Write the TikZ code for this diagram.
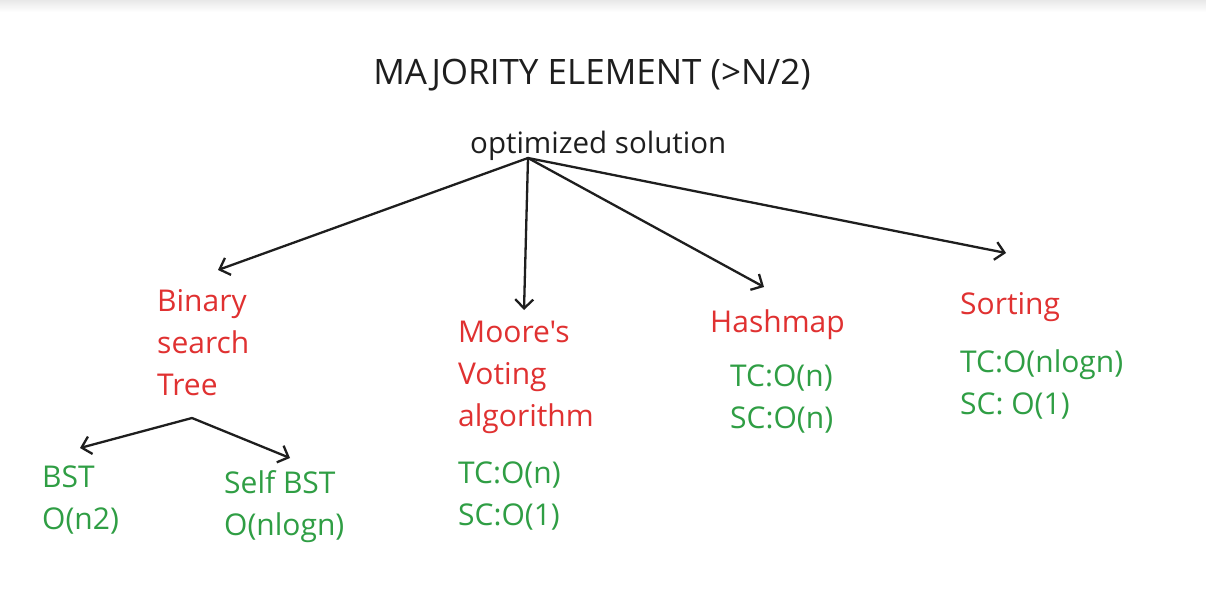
\documentclass[tikz,border=0pt]{standalone}
\usepackage{fontspec}
\setmainfont{Open Sans}[Ligatures=TeXOff]
\usetikzlibrary{arrows.meta}
\definecolor{ink}{HTML}{1E1E1E}
\definecolor{exred}{HTML}{E03131}
\definecolor{exgreen}{HTML}{2F9E44}
\tikzset{
  txt/.style={inner sep=0pt, anchor=base west, align=left, font=\fontsize{30}{42}\selectfont},
  redtxt/.style={txt, text=exred},
  greentxt/.style={txt, text=exgreen},
  blacktxt/.style={txt, text=ink},
  conn/.style={draw=ink, line width=2.3pt, line cap=round, line join=round,
    -{Straight Barb[length=9pt, width=18pt, line width=2.3pt]}},
}
\begin{document}
\begin{tikzpicture}[x=1pt, y=-1pt]
\useasboundingbox (0,0) rectangle (1206,608);
\fill[white] (0,0) rectangle (1206,608);
\shade[top color=black!9, bottom color=white, draw=none] (0,0) rectangle (1206,12);
% title
\node[blacktxt, anchor=base, font=\fontsize{35}{40}\selectfont] (title) at (592,84) {MAJORITY ELEMENT (>N/2)};
\node[blacktxt, font=\fontsize{29.5}{40}\selectfont] (opt) at (470,153) {optimized solution};
% categories (anchor = baseline of last line)
\node[redtxt] (bst) at (157,395) {Binary\\search\\Tree};
\node[redtxt] (moore) at (458,426) {Moore's\\Voting\\algorithm};
\node[redtxt] (hash) at (710,332) {Hashmap};
\node[redtxt] (sort) at (960,314) {Sorting};
% complexities
\node[greentxt] (hashc) at (730,428) {TC:O(n)\\SC:O(n)};
\node[greentxt] (sortc) at (960,414) {TC:O(nlogn)\\SC: O(1)};
\node[greentxt] (moorec) at (458,525) {TC:O(n)\\SC:O(1)};
\node[greentxt] (bstc) at (42,529) {BST\\O(n2)};
\node[greentxt] (selfc) at (224,535) {Self BST\\O(nlogn)};
% connectors
\coordinate (hub) at (528,158);
\coordinate (tipA) at (218,270);
\coordinate (tipB) at (524,310);
\coordinate (tipC) at (764,287);
\coordinate (tipD) at (1006,253);
\coordinate (treehub) at (192,418);
\coordinate (tipE) at (80,448);
\coordinate (tipF) at (290,458);
\draw[conn] (hub) -- (tipA);
\draw[conn] (hub) -- (tipB);
\draw[conn] (hub) -- (tipC);
\draw[conn] (hub) -- (tipD);
\draw[conn] (treehub) -- (tipE);
\draw[conn] (treehub) -- (tipF);
\end{tikzpicture}
\end{document}
